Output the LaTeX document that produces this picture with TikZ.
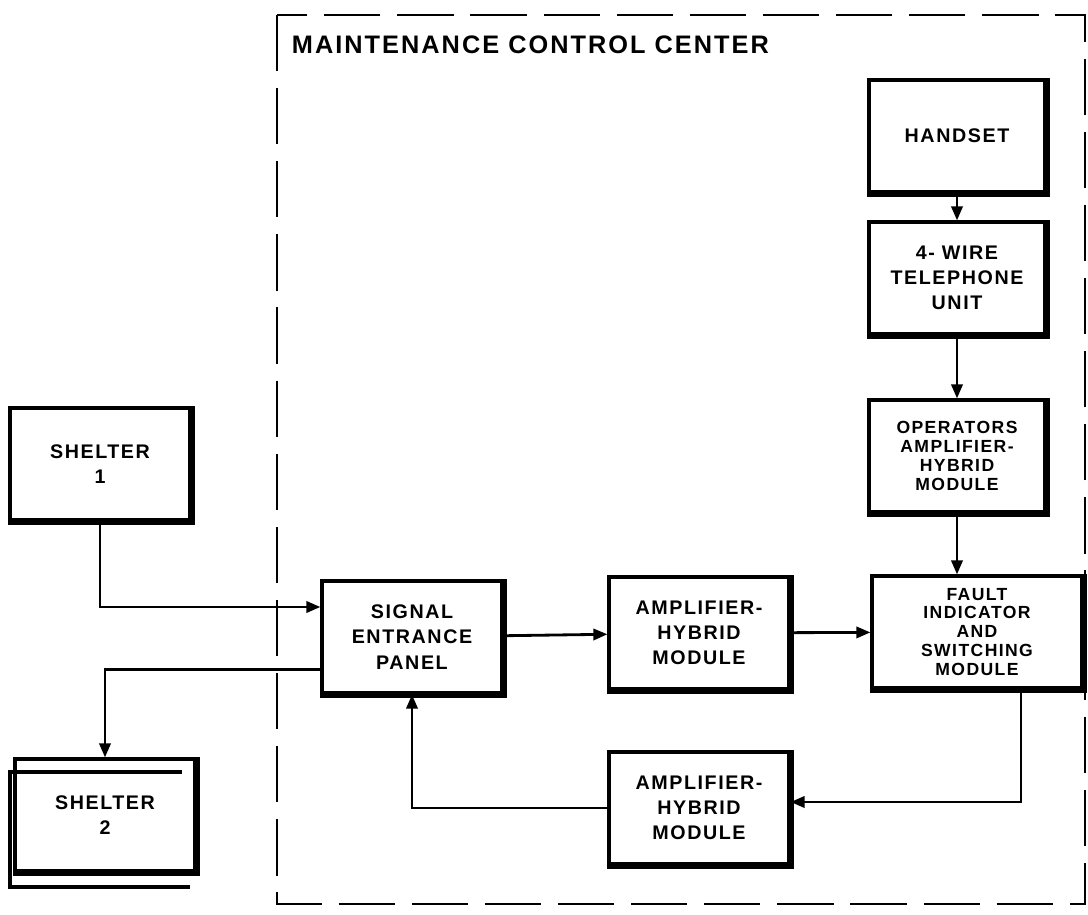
\documentclass[tikz,border=0pt]{standalone}
\usepackage{fontspec}
\newfontfamily\handfont[LetterSpace=8]{Liberation Sans}
\usetikzlibrary{arrows.meta}

\tikzset{
	block/.style={shape=rectangle, draw=black, line width=2.2pt, minimum width=4.5cm, minimum height=2.8cm, inner sep=0pt, align=center, font=\handfont\bfseries\fontsize{14}{18}\selectfont},
	tight/.style={font=\handfont\bfseries\fontsize{12.5}{13.5}\selectfont},
	wire/.style={line width=2pt},
	mccframe/.style={line width=1.8pt, dash pattern=on 40pt off 12pt}
}

\begin{document}
\begin{tikzpicture}[x=0.025cm, y=-0.025cm, >={Triangle[length=10pt, width=8pt]}]
	\useasboundingbox (0,0) rectangle (1088,915);

	\draw[mccframe] (277,15) rectangle (1085,904);
	\node[anchor=west, font=\handfont\bfseries\fontsize{18}{20}\selectfont] (mcc) at (287,45) {MAINTENANCE CONTROL CENTER};

	\node[block] (sh1) at (100,464) {SHELTER\\1};
	\node[block] (sh2) at (105,815) {SHELTER\\2};

	\node[block] (sep) at (412,637) {SIGNAL\\ENTRANCE\\PANEL};
	\node[block] (ah1) at (699,633) {AMPLIFIER-\\HYBRID\\MODULE};
	\node[block] (ah2) at (699,808) {AMPLIFIER-\\HYBRID\\MODULE};
	\node[block, tight, minimum width=5.25cm] (fism) at (977,632) {FAULT\\INDICATOR\\AND\\SWITCHING\\MODULE};

	\node[block, minimum width=4.4cm] (hset) at (957,136) {HANDSET};
	\node[block, minimum width=4.4cm] (tel) at (957,278) {4- WIRE\\TELEPHONE\\UNIT};
	\node[block, tight, minimum width=4.4cm] (ops) at (957,456) {OPERATORS\\AMPLIFIER-\\HYBRID\\MODULE};

	% heavier right and bottom edges
	\foreach \n in {sh1,sh2,sep,ah1,ah2,fism,hset,tel,ops}
		\draw[line width=4.5pt] (\n.north east) -- (\n.south east) -- (\n.south west);

	% second frame behind shelter 2
	\draw[line width=3pt] (182,772) -- (10,772) -- (10,887) -- (190,887);

	\path [->, wire] (hset) edge (tel);
	\path [->, wire] (tel) edge (ops);
	\draw [->, wire] (ops.south) -- (ops.south |- fism.north);

	\path [->, wire] (sep) edge (ah1);
	\path [->, wire] (ah1) edge (fism);

	\draw [->, wire] (sh1.south) |- ([yshift=0.75cm]sep.west);
	\draw [->, wire] ([yshift=-0.82cm]sep.west) -| (sh2.north);
	\draw [->, wire] ([xshift=1.1cm]fism.south) |- ([yshift=0.15cm]ah2.east);
	\draw [->, wire] (ah2.west) -| (sep.south);

\end{tikzpicture}
\end{document}
